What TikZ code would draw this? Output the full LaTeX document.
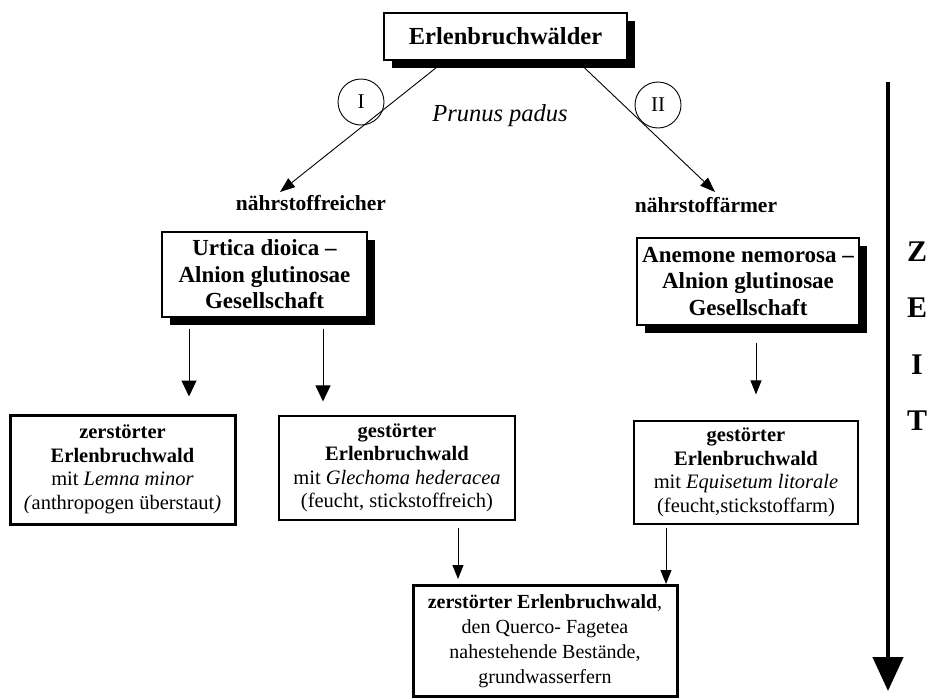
\documentclass[tikz,border=0pt]{standalone}
\usepackage{fontspec}
\setmainfont{Liberation Serif}
\usetikzlibrary{arrows.meta,shadows}
\begin{document}
\begin{tikzpicture}[x=1pt,y=-1pt,
  sbox/.style={draw, line width=1.4pt, fill=white, inner sep=0pt, align=center,
    drop shadow={shadow xshift=8pt, shadow yshift=-8pt, fill=black, opacity=1}},
  thinbox/.style={draw, line width=1.1pt, inner sep=0pt, align=center,
    font=\fontsize{20.5}{23.5}\selectfont},
  thickbox/.style={draw, line width=3pt, inner sep=0pt, align=center,
    font=\fontsize{20.5}{23.5}\selectfont},
  headbold/.style={font=\fontsize{23}{26.5}\selectfont\bfseries},
  lbl/.style={inner sep=0pt, anchor=base},
  rom/.style={circle, draw, line width=0.9pt, minimum size=46pt, inner sep=0pt,
    font=\fontsize{21}{21}\selectfont},
  darr/.style={line width=0.9pt, -{Triangle[length=15pt,width=11pt]}},
  varr/.style={line width=1pt, -{Triangle[length=16pt,width=15pt]}},
  sarr/.style={line width=1pt, -{Triangle[length=14pt,width=11pt]}},
  timearr/.style={line width=4.5pt, -{Triangle[length=34pt,width=30pt]}},
  zeit/.style={inner sep=0pt, anchor=base, font=\fontsize{30}{30}\selectfont\bfseries}
]
\useasboundingbox (0,0) rectangle (946,699);

% top
\node[sbox, minimum width=243pt, minimum height=47pt,
  font=\fontsize{24.5}{28}\selectfont\bfseries] (top) at (505.5,36.5) {Erlenbruchwälder};

\node[rom] (c1) at (361,102) {I};
\node[rom] (c2) at (658,105) {II};
\node[lbl, font=\fontsize{24.5}{24.5}\selectfont\itshape] (prunus) at (500,121) {Prunus padus};

\node[lbl, font=\fontsize{21.5}{21.5}\selectfont\bfseries] (reich) at (311,210) {nährstoffreicher};
\node[lbl, font=\fontsize{21.5}{21.5}\selectfont\bfseries] (arm) at (706,212) {nährstoffärmer};

\coordinate (dl) at (280,192);
\coordinate (dr) at (715,192);
\coordinate (dls) at (445,0);
\coordinate (drs) at (577,0);
\draw[darr] (top.south -| dls) -- (dl);
\draw[darr] (top.south -| drs) -- (dr);

% second row
\node[sbox, headbold, minimum width=205pt, minimum height=85pt] (urtica) at (264.5,274.5)
  {Urtica dioica –\\Alnion glutinosae\\Gesellschaft};
\node[sbox, headbold, minimum width=222pt, minimum height=87pt] (anem) at (748,281.5)
  {Anemone nemorosa –\\Alnion glutinosae\\Gesellschaft};

% third row
\node[thickbox, minimum width=225pt, minimum height=109pt] (lb) at (122.5,469.5)
  {\textbf{zerstörter}\\\textbf{Erlenbruchwald}\\mit \textit{Lemna minor}\\\textit{(}anthropogen überstaut\textit{)}};
\node[thinbox, minimum width=236pt, minimum height=104pt] (mid) at (397,468)
  {\textbf{gestörter}\\\textbf{Erlenbruchwald}\\mit \textit{Glechoma hederacea}\\(feucht, stickstoffreich)};
\node[thinbox, minimum width=224pt, minimum height=103pt] (rb) at (746,472.5)
  {\textbf{gestörter}\\\textbf{Erlenbruchwald}\\mit \textit{Equisetum litorale}\\(feucht,stickstoffarm)};

% bottom
\node[thickbox, font=\fontsize{20}{25}\selectfont, minimum width=264pt, minimum height=111pt] (bot) at (545,641)
  {\textbf{zerstörter Erlenbruchwald},\\den Querco- Fagetea\\nahestehende Bestände,\\grundwasserfern};

% vertical arrows
\coordinate (x1) at (189,0);
\coordinate (x2) at (323,0);
\coordinate (x3) at (756,0);
\coordinate (x4) at (458,0);
\coordinate (x5) at (666,0);
\draw[varr, shorten <=11pt, shorten >=17pt] (urtica.south -| x1) -- (lb.north -| x1);
\draw[varr, shorten <=11pt, shorten >=14pt] (urtica.south -| x2) -- (mid.north -| x2);
\draw[sarr, shorten <=17pt, shorten >=26pt] (anem.south -| x3) -- (rb.north -| x3);
\draw[sarr, shorten <=7pt, shorten >=5pt] (mid.south -| x4) -- (bot.north -| x4);
\draw[sarr, shorten <=3pt, shorten >=0pt] (rb.south -| x5) -- (bot.north -| x5);

% time arrow
\coordinate (t1) at (888,82);
\coordinate (t2) at (888,691);
\draw[timearr] (t1) -- (t2);
\node[zeit] (zz) at (917,261) {Z};
\node[zeit] (ze) at (917,317) {E};
\node[zeit] (zi) at (917,374) {I};
\node[zeit] (zt) at (917,430) {T};
\end{tikzpicture}
\end{document}
